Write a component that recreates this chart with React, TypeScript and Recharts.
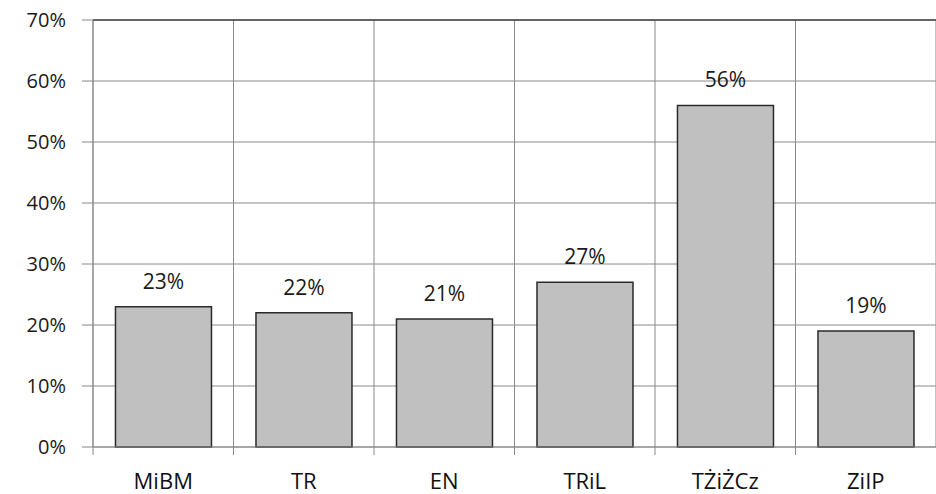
import React from 'react';
import { BarChart, Bar, XAxis, YAxis, CartesianGrid, LabelList, ReferenceLine } from 'recharts';

const categories = ['MiBM', 'TR', 'EN', 'TRiL', 'TŻiŻCz', 'ZiIP'];
const shares = [23, 22, 21, 27, 56, 19];
const yTicks = [0, 10, 20, 30, 40, 50, 60, 70];

const chartData = categories.map((name, i) => ({ name, value: shares[i] }));

const W = 936;
const H = 494;
const LEFT = 93;
const BAND = (W - LEFT) / categories.length;
const FONT = '"Open Sans", sans-serif';

const CategoryTick = (props: any) => {
  const { x, y, payload } = props;
  const lx = x - BAND / 2;
  return (
    <g>
      <line x1={lx} y1={y - 8} x2={lx} y2={y} stroke="#888" />
      <text x={x} y={y + 34} textAnchor="middle" fill="#111" fontSize={22} fontFamily={FONT}>
        {payload.value}
      </text>
    </g>
  );
};

export default function App() {
  return (
    <div style={{ position: 'absolute', left: 0, top: 0, background: '#fff' }}>
      <BarChart
        width={W}
        height={H}
        data={chartData}
        margin={{ top: 20, right: 0, left: 0, bottom: 0 }}
        barCategoryGap="16%"
      >
        <CartesianGrid
          stroke="#8a8a8a"
          verticalCoordinatesGenerator={({ offset }: any) =>
            categories.map((_, i) => offset.left + (i * offset.width) / categories.length).concat([offset.left + offset.width])
          }
        />
        <XAxis
          dataKey="name"
          height={47}
          tickSize={8}
          tickMargin={0}
          tickLine={false}
          axisLine={{ stroke: '#888' }}
          tick={<CategoryTick />}
          interval={0}
        />
        <YAxis
          width={LEFT}
          domain={[0, 70]}
          ticks={yTicks}
          interval={0}
          tickSize={11}
          tickMargin={16}
          tickFormatter={(v: number) => `${v}%`}
          axisLine={{ stroke: '#888' }}
          tickLine={{ stroke: '#888' }}
          tick={{ fill: '#1a1a1a', fontSize: 20, fontFamily: FONT }}
        />
        <ReferenceLine y={70} stroke="#444" strokeWidth={1.5} />
        <Bar dataKey="value" fill="#c0c0c0" stroke="#2a2a2a" strokeWidth={1.5} isAnimationActive={false}>
          <LabelList
            dataKey="value"
            position="top"
            offset={18}
            formatter={(v: any) => `${v}%`}
            fill="#1a1a1a"
            fontSize={21}
            fontFamily={FONT}
          />
        </Bar>
      </BarChart>
    </div>
  );
}
